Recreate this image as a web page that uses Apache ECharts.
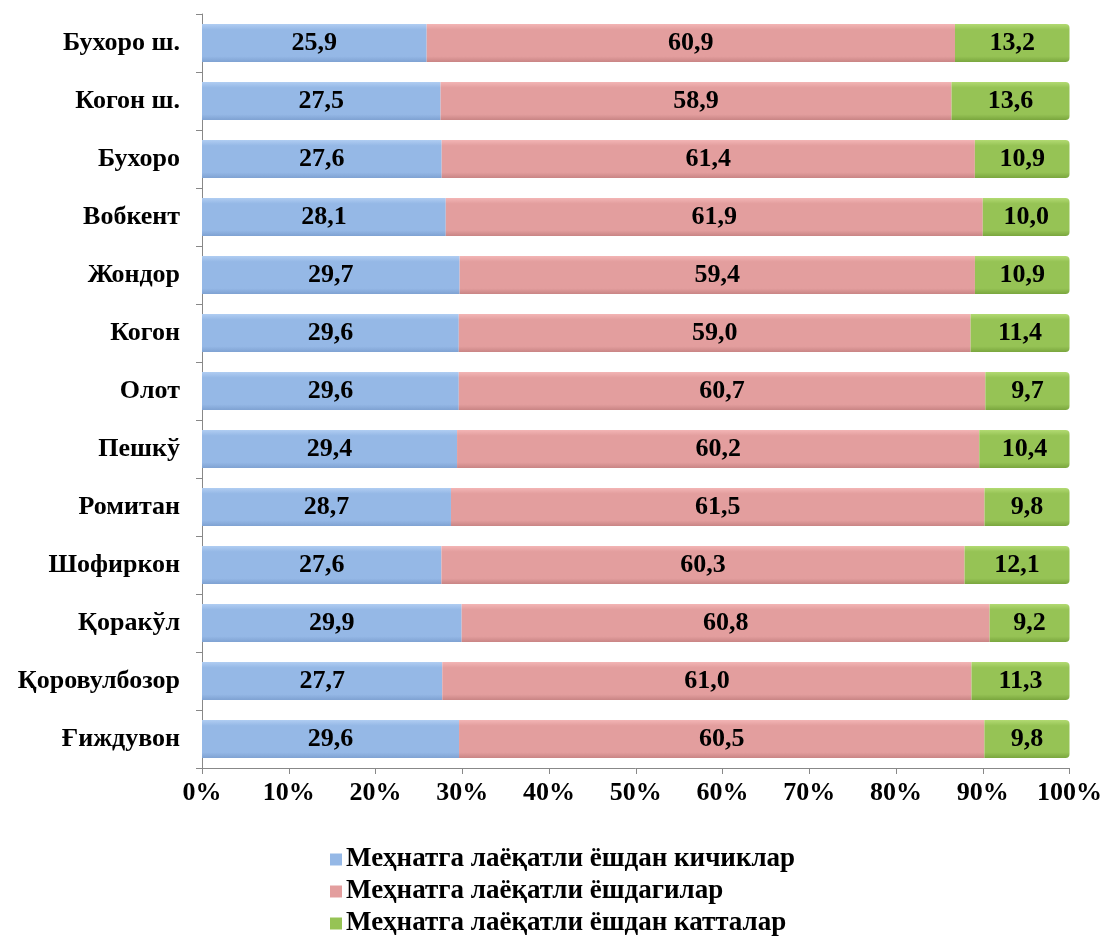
<!DOCTYPE html>
<html><head><meta charset="utf-8">
<script src="https://cdn.jsdelivr.net/npm/echarts@6/dist/echarts.min.js"></script>
<style>html,body{margin:0;padding:0;background:#fff}#c{width:1105px;height:936px}</style>
</head><body><div id="c"></div>
<script>
const categories = ['Бухоро ш.','Когон ш.','Бухоро','Вобкент','Жондор','Когон','Олот','Пешкў','Ромитан','Шофиркон','Қоракўл','Қоровулбозор','Ғиждувон'];
const seriesNames = ['Меҳнатга лаёқатли ёшдан кичиклар','Меҳнатга лаёқатли ёшдагилар','Меҳнатга лаёқатли ёшдан катталар'];
const young = [25.9,27.5,27.6,28.1,29.7,29.6,29.6,29.4,28.7,27.6,29.9,27.7,29.6];
const working = [60.9,58.9,61.4,61.9,59.4,59.0,60.7,60.2,61.5,60.3,60.8,61.0,60.5];
const old = [13.2,13.6,10.9,10.0,10.9,11.4,9.7,10.4,9.8,12.1,9.2,11.3,9.8];
const xTicks = ['0%','10%','20%','30%','40%','50%','60%','70%','80%','90%','100%'];

const raw = [young, working, old];
const totals = categories.map((_, i) => young[i] + working[i] + old[i]);
const font = '"Liberation Serif","Times New Roman",serif';
const grads = [
  ['#b0cdf2','#95b8e6','#7fa2d2'],
  ['#f3b5b5','#e39e9e','#c98585'],
  ['#b2da72','#96c355','#7aa63e']
];
function grad(c){
  return new echarts.graphic.LinearGradient(0,0,0,1,[
    {offset:0,color:c[0]},{offset:0.15,color:c[1]},{offset:0.85,color:c[1]},{offset:1,color:c[2]}
  ]);
}
const chart = echarts.init(document.getElementById('c'));
chart.setOption({
  animation:false,
  grid:{left:202,right:35,top:14,bottom:168},
  xAxis:{type:'value',min:0,max:100,interval:10,
    axisLine:{show:true,lineStyle:{color:'#888'}},
    axisTick:{show:true,length:6,lineStyle:{color:'#888'}},
    splitLine:{show:false},
    axisLabel:{formatter:(v)=>xTicks[Math.round(v/10)],fontFamily:font,fontWeight:'bold',fontSize:26,color:'#000',margin:12}
  },
  yAxis:{type:'category',data:categories,inverse:true,
    axisLine:{show:true,lineStyle:{color:'#888'}},
    axisTick:{show:true,length:6,lineStyle:{color:'#888'}},
    axisLabel:{fontFamily:font,fontWeight:'bold',fontSize:26,color:'#000',margin:22}
  },
  legend:{orient:'vertical',left:325,top:841,width:740,height:100,itemWidth:12,itemHeight:12,itemGap:5,icon:'rect',
    textStyle:{fontFamily:font,fontWeight:'bold',fontSize:27,color:'#000',padding:[0,0,0,-1]},
    data:seriesNames.map((n,k)=>({name:n,itemStyle:{color:grads[k][1]}}))
  },
  series: seriesNames.map((n,k)=>({
    name:n,type:'bar',stack:'a',barWidth:38,
    data: raw[k].map((v,i)=>({value:v/totals[i]*100})),
    itemStyle:{color:grad(grads[k]), borderRadius: k===2?[0,4,4,0]:0},
    label:{show:true,position:'inside',fontFamily:font,fontWeight:'bold',fontSize:26,color:'#000',
      formatter:(p)=>raw[k][p.dataIndex].toFixed(1).replace('.',',')}
  }))
});
</script></body></html>
